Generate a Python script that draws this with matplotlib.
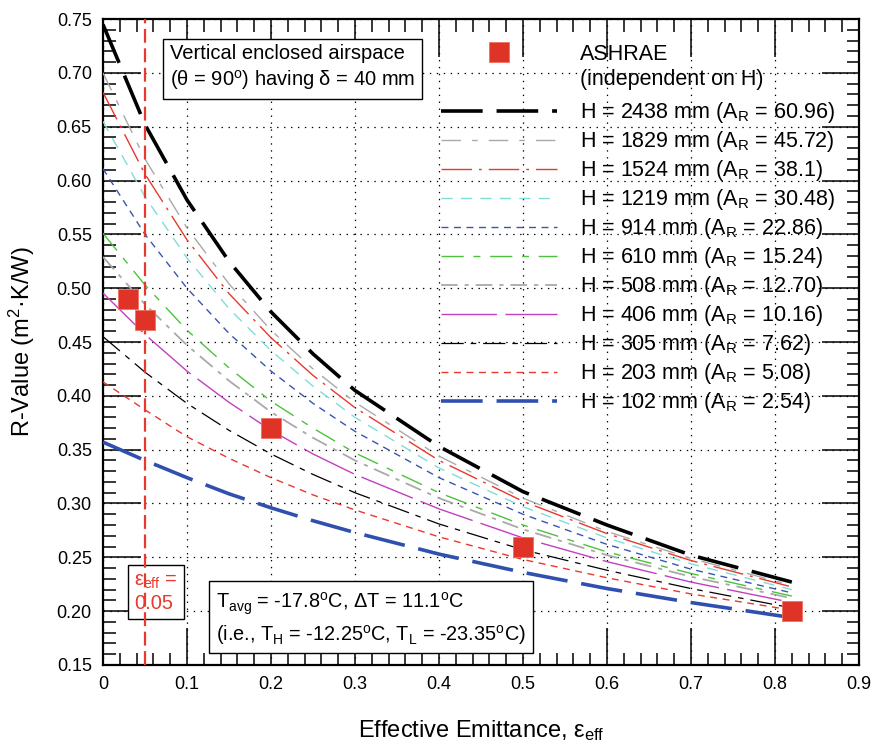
import matplotlib
matplotlib.use("Agg")
import matplotlib.pyplot as plt
from matplotlib.lines import Line2D
from matplotlib.ticker import MultipleLocator, FormatStrFormatter

plt.rcParams['font.family'] = ['Liberation Sans', 'DejaVu Sans']
plt.rcParams['mathtext.fontset'] = 'custom'
plt.rcParams['mathtext.rm'] = 'Liberation Sans'
plt.rcParams['mathtext.it'] = 'Liberation Sans:italic'
plt.rcParams['mathtext.default'] = 'regular'
plt.rcParams['lines.scale_dashes'] = False

## effective emittance values where the curves were read
eps = [0, 0.05, 0.1, 0.15, 0.2, 0.25, 0.3, 0.4, 0.5, 0.6, 0.7, 0.82]

## R-values for each enclosure height H (mm)
r_2438 = [0.745, 0.652, 0.582, 0.525, 0.478, 0.439, 0.405, 0.353, 0.311, 0.280, 0.252, 0.227]
r_1829 = [0.700, 0.620, 0.556, 0.504, 0.461, 0.425, 0.394, 0.344, 0.305, 0.274, 0.249, 0.224]
r_1524 = [0.682, 0.606, 0.545, 0.495, 0.454, 0.419, 0.389, 0.340, 0.302, 0.272, 0.247, 0.2225]
r_1219 = [0.655, 0.585, 0.528, 0.481, 0.442, 0.409, 0.380, 0.333, 0.297, 0.268, 0.244, 0.220]
r_914 = [0.611, 0.550, 0.500, 0.458, 0.423, 0.393, 0.367, 0.324, 0.290, 0.262, 0.239, 0.217]
r_610 = [0.551, 0.503, 0.461, 0.426, 0.395, 0.370, 0.347, 0.310, 0.280, 0.255, 0.235, 0.214]
r_508 = [0.529, 0.485, 0.447, 0.414, 0.385, 0.361, 0.340, 0.305, 0.276, 0.252, 0.232, 0.212]
r_406 = [0.4955, 0.457, 0.423, 0.394, 0.368, 0.346, 0.327, 0.295, 0.268, 0.246, 0.227, 0.208]
r_305 = [0.455, 0.422, 0.393, 0.368, 0.346, 0.327, 0.310, 0.281, 0.257, 0.238, 0.221, 0.203]
r_203 = [0.413, 0.387, 0.362, 0.342, 0.324, 0.308, 0.294, 0.269, 0.248, 0.231, 0.216, 0.201]
r_102 = [0.357, 0.340, 0.324, 0.309, 0.296, 0.284, 0.273, 0.253, 0.236, 0.221, 0.208, 0.194]

heights = [2438, 1829, 1524, 1219, 914, 610, 508, 406, 305, 203, 102]
aspect = ["60.96", "45.72", "38.1", "30.48", "22.86", "15.24", "12.70", "10.16", "7.62", "5.08", "2.54"]
curves = [r_2438, r_1829, r_1524, r_1219, r_914, r_610, r_508, r_406, r_305, r_203, r_102]

## ASHRAE points
ash_eps = [0.03, 0.05, 0.2, 0.5, 0.82]
ash_r = [0.49, 0.47, 0.37, 0.26, 0.20]

## line styles (colour, width, dash pattern in points)
styles = [
    ("black", 2.6, (0, (30, 10))),
    ("#a9a9a9", 1.0, (0, (14, 8, 4, 8))),
    ("#e8392e", 1.0, (0, (22, 5, 2, 5))),
    ("#80ddd6", 1.0, (0, (8, 6))),
    ("#3a55b0", 1.0, (0, (5, 4))),
    ("#4cc23c", 1.0, (0, (16, 7, 5, 7))),
    ("#a9a9a9", 1.3, (0, (12, 5, 3, 5))),
    ("#c23fc0", 1.0, (0, (40, 6))),
    ("black", 0.9, (0, (16, 5, 4, 5))),
    ("#e8392e", 1.0, (0, (5, 4))),
    ("#3050b0", 2.6, (0, (30, 10))),
]

fig = plt.figure(figsize=(8.77, 7.43), dpi=100)
ax = fig.add_axes([0.1174, 0.1050, 0.8621, 0.8694])

sq, = ax.plot(ash_eps, ash_r, linestyle="none", marker="s", markersize=14,
              color="#e03327", markeredgecolor="#f07060", markeredgewidth=0.6, zorder=5)

lines = []
labels = []
for h, ar, r, (c, lw, ls) in zip(heights, aspect, curves, styles):
    ln, = ax.plot(eps, r, color=c, linewidth=lw, linestyle=ls, zorder=3)
    lines.append(ln)
    labels.append("H = %d mm (A$_R$ = %s)" % (h, ar))

## emittance of 0.05 reference line
ax.axvline(0.05, color="#e8392e", linewidth=1.6, linestyle=(0, (10, 4)), zorder=4)

ax.set_xlim(0, 0.9)
ax.set_ylim(0.15, 0.75)
ax.xaxis.set_major_locator(MultipleLocator(0.1))
ax.xaxis.set_minor_locator(MultipleLocator(0.02))
ax.yaxis.set_major_locator(MultipleLocator(0.05))
ax.yaxis.set_minor_locator(MultipleLocator(0.01))
ax.yaxis.set_major_formatter(FormatStrFormatter("%.2f"))
ax.set_xticks([0, 0.1, 0.2, 0.3, 0.4, 0.5, 0.6, 0.7, 0.8, 0.9])
ax.set_xticklabels(["0", "0.1", "0.2", "0.3", "0.4", "0.5", "0.6", "0.7", "0.8", "0.9"])
ax.tick_params(which="both", direction="in", top=True, right=True, labelsize=13, width=1.1)
ax.tick_params(which="major", length=27, pad=8)
ax.tick_params(which="minor", length=9)
for s in ax.spines.values():
    s.set_linewidth(1.6)
ax.grid(True, which="major", color="black", linewidth=0.9, linestyle=(0, (1, 4)))

ax.set_xlabel("Effective Emittance, ε$_{eff}$", fontsize=17, labelpad=18)
ax.set_ylabel("R-Value (m$^2$·K/W)", fontsize=17, labelpad=14)

## legend split in two: ASHRAE entry on top, curves below
leg_kw = dict(loc="upper left", frameon=False, fontsize=15.5, handlelength=5.4,
              handletextpad=1.07, labelspacing=0.185, borderpad=0, borderaxespad=0, numpoints=1)
leg1 = ax.legend([sq, Line2D([], [], linestyle="none")], ["ASHRAE", "(independent on H)"],
                 bbox_to_anchor=(0.447, 0.962), **leg_kw)
ax.add_artist(leg1)
ax.legend(lines, labels, bbox_to_anchor=(0.447, 0.874), **leg_kw)

ax.text(0.08, 0.727, "Vertical enclosed airspace\n(θ = 90$^o$) having δ = 40 mm",
        fontsize=14.5, va="top", ha="left", linespacing=1.3,
        bbox=dict(boxstyle="square,pad=0.35", facecolor="white", edgecolor="black", linewidth=1))

ax.text(0.037, 0.236, "ε$_{eff}$ =\n0.05", fontsize=14.5, color="#e8392e",
        va="top", ha="left", linespacing=1.2,
        bbox=dict(boxstyle="square,pad=0.3", facecolor="white", edgecolor="black", linewidth=1))

ax.text(0.135, 0.219, "T$_{avg}$ = -17.8$^o$C, ΔT = 11.1$^o$C\n(i.e., T$_H$ = -12.25$^o$C, T$_L$ = -23.35$^o$C)",
        fontsize=14.3, va="top", ha="left", linespacing=1.3,
        bbox=dict(boxstyle="square,pad=0.35", facecolor="white", edgecolor="black", linewidth=1))

fig.savefig("out.png", dpi=100)
